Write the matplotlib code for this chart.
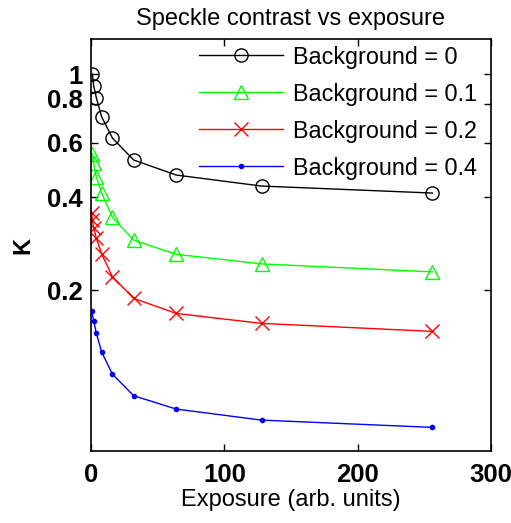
import matplotlib
matplotlib.use("Agg")
import matplotlib.pyplot as plt
import matplotlib.transforms as mtransforms
from matplotlib.ticker import FixedLocator, FixedFormatter, NullLocator

plt.rcParams['font.family'] = ['Liberation Sans', 'DejaVu Sans']

# Data
x_bg0 = [1, 2, 4, 8, 16, 32, 64, 128, 256]
k_bg0 = [1.0, 0.917, 0.838, 0.727, 0.621, 0.527, 0.471, 0.434, 0.412]

x_bg01 = [1, 2, 4, 8, 16, 32, 64, 128, 256]
k_bg01 = [0.551, 0.515, 0.464, 0.412, 0.344, 0.290, 0.261, 0.243, 0.229]

x_bg02 = [0.5, 1, 2, 4, 8, 16, 32, 64, 128, 256]
k_bg02 = [0.355, 0.337, 0.318, 0.294, 0.262, 0.221, 0.188, 0.168, 0.156, 0.147]

x_bg04 = [0.5, 2, 4, 8, 16, 32, 64, 128, 256]
k_bg04 = [0.171, 0.159, 0.145, 0.126, 0.107, 0.091, 0.0824, 0.0759, 0.0719]

labels = ['Background = 0', 'Background = 0.1', 'Background = 0.2', 'Background = 0.4']
yticks = [0.2, 0.4, 0.6, 0.8, 1.0]
ytick_labels = ['0.2', '0.4', '0.6', '0.8', '1']
xticks = [0, 100, 200, 300]
xtick_labels = ['0', '100', '200', '300']

fig = plt.figure(figsize=(5.11, 5.23), dpi=100)
ax = fig.add_axes([91/511, 1-451/523, 400/511, 412/523])

ax.plot(x_bg0, k_bg0, color='black', lw=1, marker='o', ms=9.5, mfc='none', mec='black', mew=1, label=labels[0])
ax.plot(x_bg01, k_bg01, color='#00ff00', lw=1, marker='^', ms=10, mfc='none', mec='#00ff00', mew=1, label=labels[1])
ax.plot(x_bg02, k_bg02, color='red', lw=1, marker='x', ms=10, mec='red', mew=1, label=labels[2])
ax.plot(x_bg04, k_bg04, color='blue', lw=1, marker='o', ms=3, mfc='blue', mec='blue', label=labels[3])

ax.set_yscale('log')
ax.set_xlim(0, 300)
ax.set_ylim(0.0603, 1.298)
ax.yaxis.set_major_locator(FixedLocator(yticks))
ax.yaxis.set_major_formatter(FixedFormatter(ytick_labels))
ax.yaxis.set_minor_locator(NullLocator())
ax.xaxis.set_major_locator(FixedLocator(xticks))
ax.xaxis.set_major_formatter(FixedFormatter(xtick_labels))

ax.tick_params(which='both', direction='in', top=True, right=True, length=5, width=1,
               labelsize=18.5)
ax.tick_params(axis='y', pad=6)
ax.tick_params(axis='x', pad=9)
for lab in ax.get_xticklabels() + ax.get_yticklabels():
    lab.set_fontweight('bold')
for s in ax.spines.values():
    s.set_linewidth(1.2)

# the reference draws the "0.8" label slightly above its tick
fig.canvas.draw()
for lab in ax.get_yticklabels():
    if lab.get_text() == '0.8':
        lab.set_transform(lab.get_transform() +
                          mtransforms.ScaledTranslation(0, 5/100, fig.dpi_scale_trans))

ax.set_title('Speckle contrast vs exposure', fontsize=17, pad=10)
ax.set_xlabel('Exposure (arb. units)', fontsize=17, labelpad=1)
ax.set_ylabel('K', fontsize=17, fontweight='bold', labelpad=9)

leg = ax.legend(loc='upper right', bbox_to_anchor=(1.0, 1.018), frameon=False, fontsize=16.8,
                handlelength=3.6, handletextpad=0.45, labelspacing=0.6, borderaxespad=0.2)

fig.savefig('out.png', dpi=100)
